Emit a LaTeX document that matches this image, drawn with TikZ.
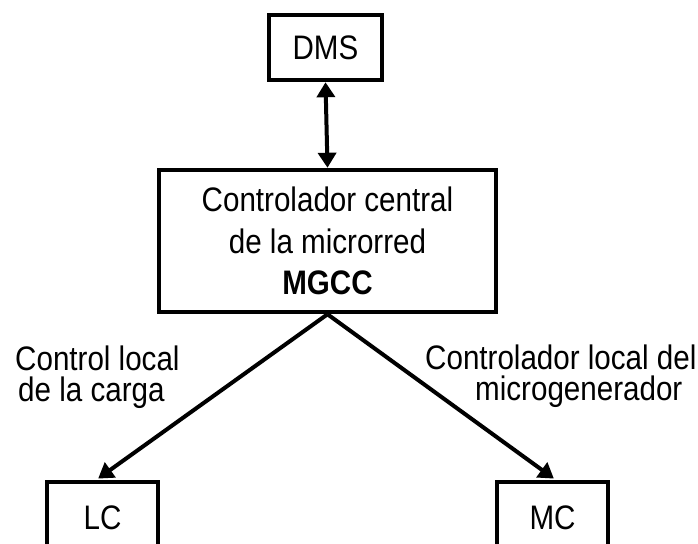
\documentclass[tikz,border=0pt]{standalone}
\usepackage{fontspec}
\setmainfont{Liberation Sans}[FakeStretch=0.87]
\usetikzlibrary{arrows.meta}
\begin{document}
\begin{tikzpicture}[x=1pt,y=-1pt,
  box/.style={draw=black, line width=4.5pt, inner sep=0pt, align=center,
    font=\fontsize{34}{41.5}\selectfont},
  lbl/.style={inner sep=0pt, align=left, anchor=north west,
    font=\fontsize{34}{31}\selectfont},
  conn/.style={line width=4pt, -{Triangle[width=18pt,length=15pt]}},
  biconn/.style={line width=4pt, {Triangle[width=18pt,length=15pt]}-{Triangle[width=18pt,length=15pt]}}]
\useasboundingbox[fill=white] (0,0) rectangle (698,543);
\node[box, minimum width=113pt, minimum height=65pt] (dms) at (325.5,47.5) {DMS};
\node[box, minimum width=337pt, minimum height=142pt] (mgcc) at (327.5,241)
  {Controlador central\\de la microrred\\\textbf{MGCC}};
\node[box, minimum width=111pt, minimum height=72pt] (lc) at (102.5,518) {LC};
\node[box, minimum width=111pt, minimum height=72pt] (mc) at (552.5,518) {MC};
\draw[biconn] (dms.south) -- (mgcc.north);
\draw[conn, shorten >=2pt] (mgcc.south) -- ([xshift=-6pt]lc.north);
\draw[conn, shorten >=2pt] (mgcc.south) -- ([xshift=3pt]mc.north);
\node[lbl] (l1) at (15,346) {Control local\\\hspace*{3pt}de la carga};
\node[lbl] (l2) at (425,345) {Controlador local del\\\hspace*{50pt}microgenerador};
\end{tikzpicture}
\end{document}
